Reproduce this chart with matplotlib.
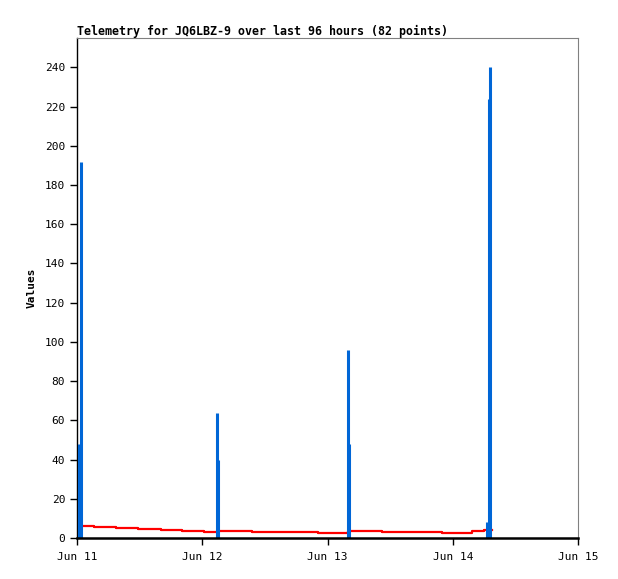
import matplotlib
matplotlib.use("Agg")
import matplotlib.pyplot as plt
import matplotlib.dates as mdates
import pandas as pd

start = pd.Timestamp("2024-06-11 00:00")

# blue series (hours after Jun 11 00:00, value)
blue_hours = [0.45, 0.85,
              26.8, 27.0,
              51.9, 52.1,
              78.6, 78.9, 79.1]
blue_vals = [48, 192,
             64, 40,
             96, 48,
             8, 224, 240]

# red series, step levels
red_hours = [0.2, 3.3, 7.5, 11.7, 16.1, 20.2, 24.4, 26.9, 33.6, 46.1,
             52.0, 58.4, 69.9, 75.7, 78.0, 79.5]
red_vals = [6.1, 5.6, 5.1, 4.6, 4.1, 3.6, 3.1, 3.7, 3.2, 2.7,
            3.7, 3.2, 2.7, 3.6, 4.2, 4.2]

fig = plt.figure(figsize=(6.18, 5.79), dpi=100)
ax = fig.add_axes([0.1246, 0.0708, 0.8107, 0.8636])

bt = [start + pd.Timedelta(hours=h) for h in blue_hours]
rt = [start + pd.Timedelta(hours=h) for h in red_hours]

ax.step(rt, red_vals, where="post", color="#ff0000", lw=1.6, zorder=2)
ax.vlines(bt, 0, blue_vals, color="#0066d6", lw=2.2, zorder=3)

ax.set_xlim(start, start + pd.Timedelta(days=4))
ax.set_ylim(0, 255)
ax.set_yticks(range(0, 241, 20))
ax.xaxis.set_major_locator(mdates.DayLocator())
ax.xaxis.set_major_formatter(mdates.DateFormatter("%b %d"))

font = "DejaVu Sans Mono"
for lab in ax.get_xticklabels() + ax.get_yticklabels():
    lab.set_fontfamily(font)
    lab.set_fontsize(8)
ax.tick_params(direction="out", length=5, width=1, colors="black")
ax.tick_params(axis="x", pad=5)

for s in ["top", "right"]:
    ax.spines[s].set_color("#808080")
    ax.spines[s].set_linewidth(0.8)
ax.spines["left"].set_linewidth(1.0)
ax.spines["bottom"].set_linewidth(1.8)
ax.spines["bottom"].set_zorder(4)

ax.set_title("Telemetry for JQ6LBZ-9 over last 96 hours (82 points)",
             loc="left", fontfamily=font, fontsize=8.4, fontweight="bold", pad=2)
ax.set_ylabel("Values", fontfamily=font, fontsize=8, fontweight="bold", labelpad=6)

fig.savefig("out.png", dpi=100)
